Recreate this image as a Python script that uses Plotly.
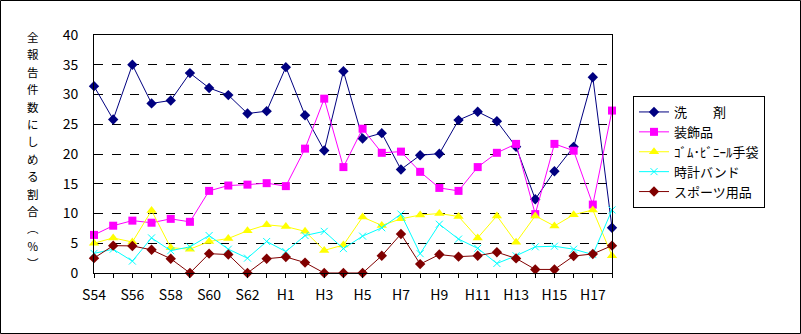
import plotly.graph_objects as go

categories = ["S54", "S55", "S56", "S57", "S58", "S59", "S60", "S61", "S62", "S63",
              "H1", "H2", "H3", "H4", "H5", "H6", "H7", "H8", "H9", "H10",
              "H11", "H12", "H13", "H14", "H15", "H16", "H17", "H18"]

senzai = [31.4, 25.8, 35.0, 28.5, 29.0, 33.6, 31.1, 29.9, 26.8, 27.2,
          34.6, 26.5, 20.6, 33.9, 22.6, 23.5, 17.4, 19.8, 20.05, 25.7,
          27.1, 25.5, 21.2, 12.4, 17.1, 21.2, 32.9, 7.6]
soushoku = [6.4, 7.95, 8.8, 8.45, 9.1, 8.6, 13.8, 14.7, 14.85, 15.1,
            14.6, 20.9, 29.3, 17.8, 24.25, 20.2, 20.4, 17.0, 14.3, 13.8,
            17.8, 20.2, 21.7, 9.9, 21.7, 20.55, 11.5, 27.3]
gomu = [5.0, 5.9, 5.2, 10.5, 4.25, 4.0, 5.3, 5.8, 7.1, 8.1,
        7.8, 7.0, 3.8, 4.7, 9.4, 8.0, 9.1, 9.75, 10.0, 9.5,
        5.9, 9.6, 5.15, 9.6, 7.9, 9.8, 10.6, 2.9]
tokei = [3.3, 4.0, 2.0, 5.9, 3.75, 4.4, 6.3, 4.0, 2.5, 5.3,
         3.6, 6.3, 7.0, 4.1, 6.2, 7.6, 9.9, 3.25, 8.2, 5.7,
         4.15, 1.6, 2.9, 4.4, 4.5, 4.0, 3.1, 10.6]
sports = [2.5, 4.6, 4.55, 3.9, 2.4, 0.0, 3.25, 3.1, 0.0, 2.4,
          2.7, 1.75, 0.0, 0.0, 0.0, 2.9, 6.55, 1.5, 3.1, 2.75,
          2.9, 3.5, 2.45, 0.6, 0.6, 2.85, 3.2, 4.6]

series_names = ["洗　　剤", "装飾品", "ｺﾞﾑ･ﾋﾞﾆｰﾙ手袋", "時計バンド", "スポーツ用品"]
series_values = [senzai, soushoku, gomu, tokei, sports]
colors = ["#000080", "#FF00FF", "#FFFF00", "#00FFFF", "#800000"]
symbols = ["diamond", "square", "triangle-up", "x-thin", "diamond"]
msizes = [8, 8, 9, 7, 8]

y_ticks = [0, 5, 10, 15, 20, 25, 30, 35, 40]
x_ticktext = [c if i % 2 == 0 else "" for i, c in enumerate(categories)]
y_title_chars = list("全報告件数にしめる割合") + ["︵", "％", "︶"]

FONT = "Noto Sans CJK JP"

fig = go.Figure()
for name, vals, col, sym, ms in zip(series_names, series_values, colors, symbols, msizes):
    fig.add_trace(go.Scatter(
        x=categories, y=vals, name=name, mode="lines+markers",
        line=dict(color=col, width=1),
        marker=dict(symbol=sym, size=ms, color=col,
                    line=dict(color=col, width=1 if sym == "x-thin" else 0)),
        cliponaxis=False,
    ))

L, R, T, B = 94, 612, 35, 273
W, H = 801, 334
pw, ph = R - L, B - T

annotations = []
for i, ch in enumerate(y_title_chars):
    yc = 37 + i * 17.4
    annotations.append(dict(
        xref="paper", yref="paper",
        x=(33 - L) / pw, y=(B - yc) / ph, xanchor="center", yanchor="middle",
        text=ch, showarrow=False,
        font=dict(family=FONT, size=11.5, color="black"),
    ))

fig.update_layout(
    width=W, height=H,
    margin=dict(l=L, r=W - R, t=T, b=H - B, pad=0),
    paper_bgcolor="white", plot_bgcolor="white",
    font=dict(family=FONT, size=13, color="black"),
    showlegend=True,
    legend=dict(
        x=(633 - L) / pw, y=(B - 96) / ph, xanchor="left", yanchor="top",
        bgcolor="white", bordercolor="black", borderwidth=1,
        font=dict(family=FONT, size=13, color="black"),
        tracegroupgap=0, itemwidth=30,
    ),
    xaxis=dict(
        type="category", range=[0, len(categories) - 1],
        tickmode="array", tickvals=categories, ticktext=x_ticktext,
        ticks="outside", ticklen=4, tickcolor="black",
        showline=True, linecolor="black", linewidth=1, mirror=True,
        showgrid=False, zeroline=False,
        tickfont=dict(family=FONT, size=14),
        ticklabelstandoff=5,
    ),
    yaxis=dict(
        range=[0, 40], tickmode="array", tickvals=y_ticks,
        ticks="", showline=True, linecolor="black", linewidth=1, mirror=True,
        showgrid=True, gridcolor="black", griddash="dash", gridwidth=1,
        zeroline=False, tickfont=dict(family=FONT, size=14),
        ticklabelstandoff=12,
    ),
    annotations=annotations,
    shapes=[dict(
        type="rect", xref="paper", yref="paper",
        x0=(0.5 - L) / pw, x1=(800.5 - L) / pw,
        y0=(B - 333.5) / ph, y1=(B - 0.5) / ph,
        line=dict(color="black", width=1), fillcolor="rgba(0,0,0,0)", layer="below",
    )],
)

fig.write_html("out.html")
